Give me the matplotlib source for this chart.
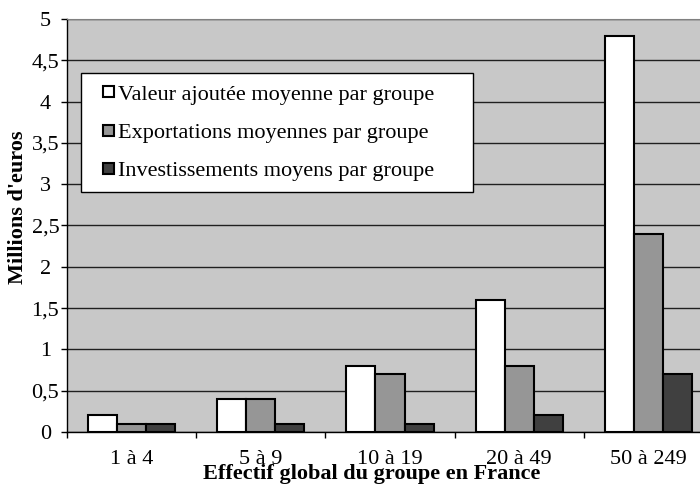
import numpy as np
import matplotlib
matplotlib.use("Agg")
import matplotlib.pyplot as plt
from matplotlib.container import BarContainer
from matplotlib.patches import Rectangle
from matplotlib.legend_handler import HandlerPatch, update_from_first_child
from matplotlib.ticker import MultipleLocator, FuncFormatter

categories = ["1 à 4", "5 à 9", "10 à 19", "20 à 49", "50 à 249"]
valeur_ajoutee = [0.2, 0.4, 0.8, 1.6, 4.8]
exportations = [0.1, 0.4, 0.7, 0.8, 2.4]
investissements = [0.1, 0.1, 0.1, 0.2, 0.7]
series_labels = [
    "Valeur ajoutée moyenne par groupe",
    "Exportations moyennes par groupe",
    "Investissements moyens par groupe",
]
series_colors = ["#ffffff", "#969696", "#404040"]

plt.rcParams["font.family"] = ["Liberation Serif", "DejaVu Serif"]
FS = 16

fig = plt.figure(figsize=(7, 4.9), dpi=100)
ax = fig.add_axes([67 / 700, 58 / 490, 646 / 700, 413 / 490])
ax.set_facecolor("#c8c8c8")

x = np.arange(len(categories))
w = 0.225
for i, (vals, lab, col) in enumerate(zip([valeur_ajoutee, exportations, investissements],
                                          series_labels, series_colors)):
    ax.bar(x + (i - 1) * w, vals, width=w, color=col, edgecolor="black",
           linewidth=1.5, label=lab, zorder=3)

ax.set_xlim(-0.5, len(categories) - 0.5)
ax.set_ylim(0, 5)
ax.yaxis.set_major_locator(MultipleLocator(0.5))
ax.yaxis.set_major_formatter(FuncFormatter(lambda v, p: f"{v:g}".replace(".", ",")))
ax.yaxis.grid(True, color="#202020", linewidth=1.0, zorder=1)
ax.set_axisbelow(True)

ax.set_xticks(x)
ax.set_xticklabels(categories)
ax.set_xticks(np.arange(len(categories) + 1) - 0.5, minor=True)
ax.tick_params(axis="x", which="major", length=0, labelsize=FS, pad=13)
ax.tick_params(axis="x", which="minor", length=4, direction="out", width=1)
ax.tick_params(axis="y", length=4, direction="out", width=1, labelsize=FS, pad=11.5)
for t in ax.get_yticklabels():
    t.set_horizontalalignment("center")

ax.spines["right"].set_visible(False)
ax.spines["top"].set_color("#808080")
ax.spines["left"].set_linewidth(1)
ax.spines["bottom"].set_linewidth(1)

ax.set_xlabel("Effectif global du groupe en France", fontsize=FS, fontweight="bold")
ax.xaxis.set_label_coords(0.472, -0.078)
ax.set_ylabel("Millions d'euros", fontsize=FS, fontweight="bold")
ax.yaxis.set_label_coords(-0.06, 0.545)


def square_handle(legend, orig_handle, xdescent, ydescent, width, height, fontsize):
    # small square sitting at the right end of the handle box
    s = 11 * 72 / 100
    return Rectangle((-xdescent + width - s, -ydescent + (height - s) / 2), s, s)


handles, labels = ax.get_legend_handles_labels()
leg = ax.legend(handles, labels, loc="upper left", mode="expand",
                bbox_to_anchor=(14 / 646, 1 - 54 / 413, 392 / 646, 0),
                fontsize=FS, frameon=True, fancybox=False, framealpha=1,
                edgecolor="black", handlelength=1.0, handleheight=0.7,
                handletextpad=0.18, labelspacing=0.8, borderpad=0.5,
                borderaxespad=0,
                handler_map={BarContainer: HandlerPatch(patch_func=square_handle,
                                                        update_func=update_from_first_child)})
leg.get_frame().set_linewidth(1)
for p in leg.get_patches():
    p.set_linewidth(1.5)

fig.savefig("out.png", dpi=100)
